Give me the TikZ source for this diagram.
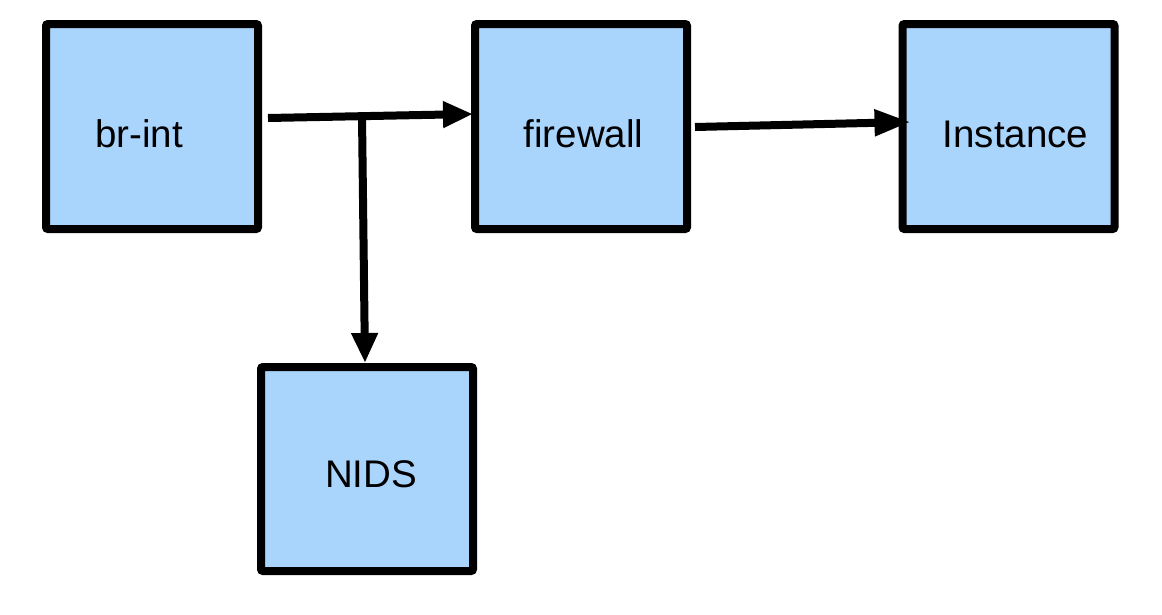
\documentclass[tikz,border=0pt]{standalone}
\usepackage{fontspec}
\setmainfont{Liberation Sans}
\usetikzlibrary{arrows.meta,calc}
\definecolor{boxblue}{RGB}{169,213,253}
\begin{document}
\begin{tikzpicture}[x=1pt,y=-1pt,
  box/.style={draw=black,fill=boxblue,line width=8pt,rounded corners=2pt,
    minimum width=212pt,minimum height=205pt,inner sep=0pt},
  lbl/.style={anchor=base,inner sep=0pt,font=\fontsize{38.5}{46}\selectfont},
  conn/.style={line width=8pt,draw=black},
  arr/.style={conn,-{Triangle[length=30pt,width=25pt]}}]
\useasboundingbox (0,0) rectangle (1162,614);
\node[box] (br) at (152,126.5) {};
\node[box] (fw) at (581,126.5) {};
\node[box] (ins) at (1008.5,126.5) {};
\node[box,minimum height=204pt] (nids) at (367,469) {};
\node[lbl] (tbr) at (139,147) {br-int};
\node[lbl] (tfw) at (583.5,147) {firewall};
\node[lbl] (tins) at (1015.5,147) {Instance};
\node[lbl] (tnids) at (371,487) {NIDS};
\coordinate (j) at (362,116.5);
\draw[arr] ($(br.east)+(6,-8.5)$) -- ($(fw.west)+(2,-12.5)$);
\draw[arr] (j) -- ($(nids.north)+(-2,0)$);
\draw[arr,-{Triangle[length=36pt,width=25pt]}] ($(fw.east)+(4,0.5)$) -- ($(ins.west)+(12,-4.5)$);
\end{tikzpicture}
\end{document}
